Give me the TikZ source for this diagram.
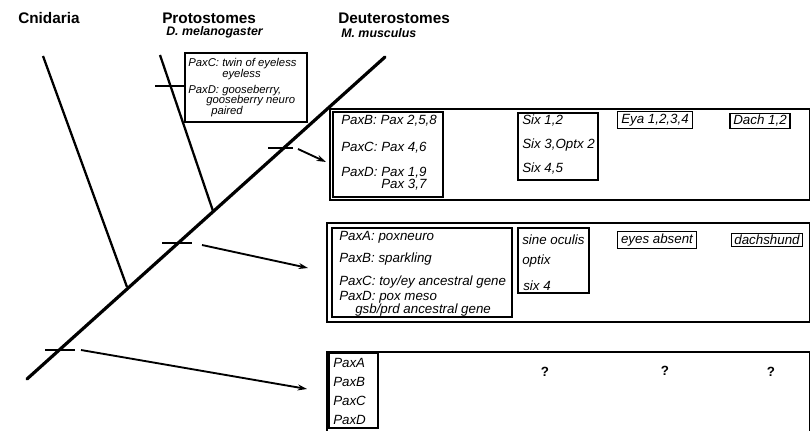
\documentclass[tikz,border=0pt]{standalone}
\usepackage{fontspec}
\setmainfont{Liberation Sans}
\usepackage{tikz}
\usetikzlibrary{arrows.meta, positioning, fit}

\begin{document}
\begin{tikzpicture}[
    x=0.75pt, y=-0.75pt,
    trunk/.style={line width=2.4pt, line cap=round},
    branch/.style={line width=1.7pt},
    tick/.style={line width=1.1pt},
    arrow/.style={-{Stealth[length=7pt, width=4.5pt]}, line width=1.4pt},
    frame/.style={draw, line width=0.8pt, inner sep=0pt},
    panel/.style={draw, line width=1pt, inner sep=0pt},
    tag/.style={draw, line width=0.8pt, inner xsep=2.5pt, inner ysep=1.5pt, font=\fontsize{10}{12}\selectfont\itshape},
    gene/.style={anchor=west, inner sep=0pt, font=\fontsize{10}{12}\selectfont\itshape},
    small/.style={anchor=west, inner sep=0pt, font=\fontsize{8.5}{10}\selectfont\itshape},
    clade/.style={anchor=west, inner sep=0pt, font=\fontsize{11.5}{14}\selectfont\bfseries},
    species/.style={anchor=west, inner sep=0pt, font=\fontsize{9.3}{11}\selectfont\bfseries\itshape},
    query/.style={inner sep=0pt, font=\fontsize{10}{12}\selectfont\bfseries}
]
    \useasboundingbox (0,0) rectangle (811,431);

    % headers
    \node[clade] (cnid) at (18,18) {Cnidaria};
    \node[clade] (proto) at (162,18) {Protostomes};
    \node[species] (dmel) at (166,32) {D. melanogaster};
    \node[clade] (deut) at (338,18) {Deuterostomes};
    \node[species] (mmus) at (341,33) {M. musculus};

    % tree
    \coordinate (root) at (27,379);
    \coordinate (crown) at (385,57);
    \coordinate (cnidtop) at (43,56);
    \coordinate (cnidjoin) at (127,287);
    \coordinate (prototop) at (160,55);
    \coordinate (protojoin) at (213,211);
    \draw[trunk] (root) -- (crown);
    \draw[branch] (cnidtop) -- (cnidjoin);
    \draw[branch] (prototop) -- (protojoin);

    % protostome genes
    \node[frame, fit={(185,53) (307,122)}] (protobox) {};
    \node[small] (ptoy) at (188,64) {PaxC: twin of eyeless};
    \node[small] (pey) at (222,75) {eyeless};
    \node[small] (pgsb) at (188,91) {PaxD: gooseberry,};
    \node[small] (pgsbn) at (206,101) {gooseberry neuro};
    \node[small] (pprd) at (211,112) {paired};
    \coordinate (tickP) at (155,86);
    \draw[tick] (tickP) -- (tickP -| protobox.west);

    % ticks on the trunk
    \coordinate (tickA) at (45,350);
    \coordinate (tickB) at (162,243);
    \coordinate (tickC) at (268,148);
    \draw[tick] (tickA) -- ++(30,0);
    \draw[tick] (tickB) -- ++(30,0);
    \draw[tick] (tickC) -- ++(25,0);

    % deuterostome panel
    \node[panel, fit={(330,109) (809.5,200)}] (deutpanel) {};
    \node[frame, fit={(333,112) (443,197)}] (deutpax) {};
    \node[gene] (dpaxb) at (341,121) {PaxB: Pax 2,5,8};
    \node[gene] (dpaxc) at (341,148) {PaxC: Pax 4,6};
    \node[gene] (dpaxd) at (341,173) {PaxD: Pax 1,9};
    \node[gene] (dpaxd2) at (381,185) {Pax 3,7};
    \node[frame, fit={(518,113) (598,180)}] (deutsix) {};
    \node[gene] (dsix1) at (522,121) {Six 1,2};
    \node[gene] (dsix3) at (522,145) {Six 3,Optx 2};
    \node[gene] (dsix4) at (522,169) {Six 4,5};
    \node[tag] (deya) at (655,120) {Eya 1,2,3,4};
    \node[tag] (ddach) at (760,121) {Dach 1,2};

    % ancestral panel
    \node[panel, fit={(327,223) (809.5,322)}] (ancpanel) {};
    \node[frame, fit={(332,228) (512,317)}] (ancpax) {};
    \node[gene] (apaxa) at (339,237) {PaxA: poxneuro};
    \node[gene] (apaxb) at (339,259) {PaxB: sparkling};
    \node[gene] (apaxc) at (339,282) {PaxC: toy/ey ancestral gene};
    \node[gene] (apaxd) at (339,297) {PaxD: pox meso};
    \node[gene] (apaxd2) at (355,310) {gsb/prd ancestral gene};
    \node[frame, fit={(518,228) (589,293)}] (ancsix) {};
    \node[gene] (aso) at (522,240) {sine oculis};
    \node[gene] (aopt) at (522,261) {optix};
    \node[gene] (asix) at (523,286) {six 4};
    \node[tag] (aeya) at (657,240) {eyes absent};
    \node[tag] (adach) at (767,240) {dachshund};

    % cnidarian panel
    \node[panel, fit={(327,352) (809.5,436)}] (cnidpanel) {};
    \node[frame, fit={(329,353) (378,428)}] (cnidpax) {};
    \node[gene] (cpaxa) at (333,363) {PaxA};
    \node[gene] (cpaxb) at (333,382) {PaxB};
    \node[gene] (cpaxc) at (333,401) {PaxC};
    \node[gene] (cpaxd) at (333,420) {PaxD};
    \node[query] (qsix) at (545,372) {?};
    \node[query] (qeya) at (665,371) {?};
    \node[query] (qdach) at (771,372) {?};

    % arrows to the panels
    \coordinate (fromA) at (81,350);
    \coordinate (toA) at (307,389);
    \coordinate (fromB) at (202,245);
    \coordinate (toB) at (308,268);
    \coordinate (fromC) at (298,149);
    \coordinate (toC) at (326,162);
    \draw[arrow] (fromA) -- (toA);
    \draw[arrow] (fromB) -- (toB);
    \draw[arrow] (fromC) -- (toC);
\end{tikzpicture}
\end{document}
